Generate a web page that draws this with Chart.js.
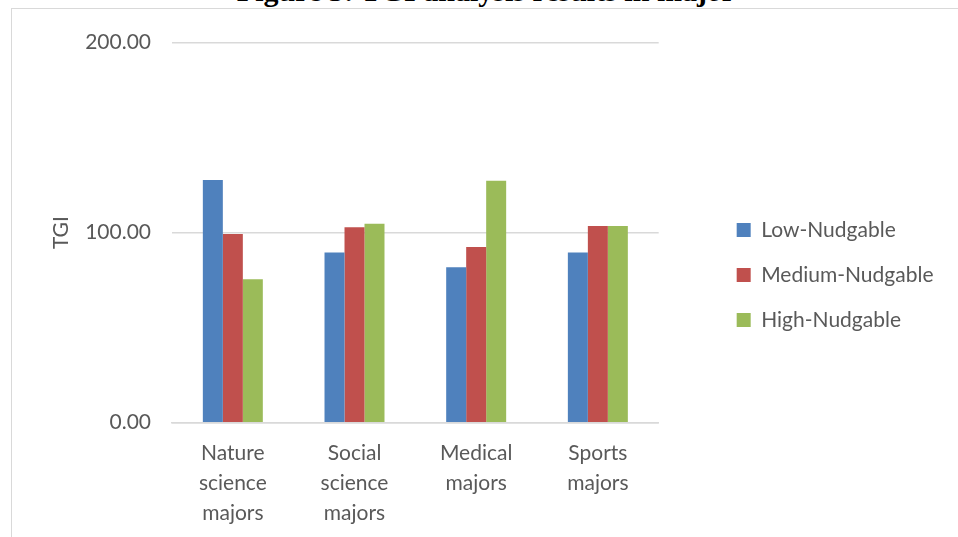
<!DOCTYPE html>
<html>
<head>
<meta charset="utf-8">
<script src="https://cdn.jsdelivr.net/npm/chart.js@4.4.1/dist/chart.umd.min.js"></script>
<style>
  body { margin: 0; background: #fff; overflow: hidden; width: 958px; height: 537px; position: relative; }
  #figTitle {
    position: absolute; left: 486px; top: -24px; transform: translateX(-50%);
    font: bold 30px/30px "Liberation Serif", "Times New Roman", serif; color: #000; white-space: nowrap;
  }
  #frame {
    position: absolute; left: 11px; top: 8px; width: 960px; height: 540px;
    border: 1px solid #d9d9d9;
  }
  #myChart { display: block; }
</style>
</head>
<body>
<div id="figTitle">Figure 5: TGI analysis results in major</div>
<div id="frame"><canvas id="myChart" width="947" height="528"></canvas></div>
<script>
const majors = [
  ['Nature', 'science', 'majors'],
  ['Social', 'science', 'majors'],
  ['Medical', 'majors'],
  ['Sports', 'majors'],
];
const seriesNames = ['Low-Nudgable', 'Medium-Nudgable', 'High-Nudgable'];
const lowNudgable = [127.7, 89.6, 81.8, 89.6];
const mediumNudgable = [99.3, 102.8, 92.4, 103.5];
const highNudgable = [75.5, 104.7, 127.3, 103.5];
const yTicks = [0, 100, 200];

const textColor = '#595959';
const gridColor = '#d9d9d9';
const font = { family: 'Lato, "Open Sans", sans-serif', size: 21 };

const databar = {
  labels: majors,
  datasets: [
    { label: seriesNames[0], data: lowNudgable, backgroundColor: '#4F81BD' },
    { label: seriesNames[1], data: mediumNudgable, backgroundColor: '#C0504D' },
    { label: seriesNames[2], data: highNudgable, backgroundColor: '#9BBB59' },
  ]
};

const configbar = {
  type: 'bar',
  data: databar,
  options: {
    responsive: false,
    animation: false,
    datasets: { bar: { barPercentage: 1, categoryPercentage: 0.493 } },
    layout: { padding: { top: 28.3, right: 15.5, bottom: 0, left: 0 } },
    plugins: {
      tooltip: { enabled: false },
      legend: {
        position: 'right',
        align: 'start',
        maxWidth: 320,
        // empty title only pushes the legend rows down next to the 100 line
        title: { display: true, text: '', font: { size: 10, lineHeight: 1 }, padding: { top: 148.3, bottom: 0 } },
        labels: { color: textColor, font: font, boxWidth: 14, boxHeight: 14, padding: 24 }
      }
    },
    scales: {
      x: {
        grid: { display: false, drawTicks: false },
        border: { display: true, color: gridColor, width: 1.5 },
        ticks: { color: textColor, font: { ...font, lineHeight: 30 / 21 }, padding: 16, maxRotation: 0, autoSkip: false },
        afterFit: (scale) => { scale.height = 528 - 413.7; }
      },
      y: {
        min: 0,
        max: 200,
        afterBuildTicks: (scale) => { scale.ticks = yTicks.map(v => ({ value: v })); },
        grid: { color: gridColor, lineWidth: 1.5, drawTicks: false },
        border: { display: false },
        ticks: { color: textColor, font: font, padding: 21, callback: (v) => v.toFixed(2) },
        title: { display: true, text: 'TGI', color: textColor, font: font, padding: { top: 37, bottom: 0 } },
        afterFit: (scale) => { scale.width = 160; }
      },
      // empty axis that keeps the gap between the bars and the legend
      gap: {
        type: 'linear',
        position: 'right',
        display: true,
        grid: { display: false, drawTicks: false },
        border: { display: false },
        ticks: { display: false },
        afterFit: (scale) => { scale.width = 54; }
      }
    }
  }
};

const myChart = new Chart(
  document.getElementById('myChart'),
  configbar
);
</script>
</body>
</html>
